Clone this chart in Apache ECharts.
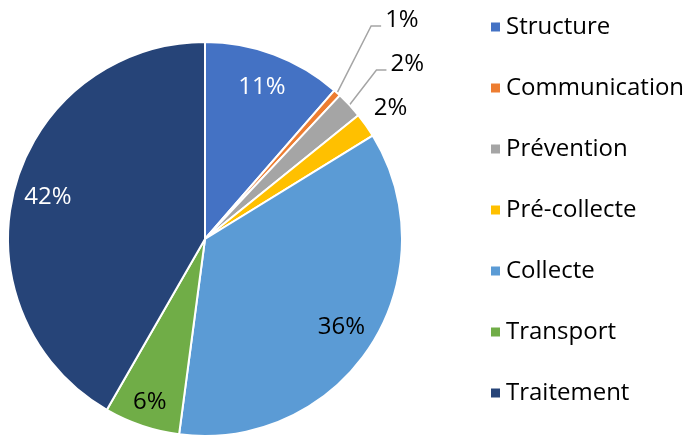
<!DOCTYPE html>
<html>
<head>
<meta charset="utf-8">
<script src="https://cdn.jsdelivr.net/npm/echarts@6/dist/echarts.min.js"></script>
<style>
  html, body { margin: 0; padding: 0; background: #fff; }
  #chart { width: 688px; height: 439px; }
</style>
</head>
<body>
<div id="chart"></div>
<script>
var categories = ['Structure', 'Communication', 'Prévention', 'Pré-collecte', 'Collecte', 'Transport', 'Traitement'];
var shares = [11.4, 0.6, 2.2, 2.0, 35.9, 6.2, 41.7];
var colors = ['#4472C4', '#ED7D31', '#A5A5A5', '#FFC000', '#5B9BD5', '#70AD47', '#264478'];
// which slices get their label outside, and inside label colour
var outside = [false, true, true, true, false, false, false];
var insideColor = ['#fff', '#000', '#000', '#000', '#000', '#000', '#fff'];

// leader line for the small slices: bend point relative to the slice edge, then a short run to the label
var leaders = {
  1: { bend: [34, -67], run: 10, line: true },
  2: { bend: [27, -35], run: 10, line: true },
  3: { bend: [1, -11], run: 3, line: false }
};

var chart = echarts.init(document.getElementById('chart'));

function pct(p) { return Math.round(p.percent) + '%'; }

var mainData = categories.map(function (name, i) {
  var item = { name: name, value: shares[i], itemStyle: { color: colors[i] } };
  if (outside[i]) {
    item.label = { show: true, position: 'outside' };
    item.labelLine = { show: true };
    if (!leaders[i].line) item.labelLine.lineStyle = { opacity: 0 };
  } else {
    item.label = { show: false };
  }
  return item;
});

var labelData = categories.map(function (name, i) {
  return {
    name: name,
    value: shares[i],
    label: { show: !outside[i], color: insideColor[i] }
  };
});

var option = {
  animation: false,
  legend: {
    orient: 'vertical',
    left: 484,
    top: 7,
    itemWidth: 11,
    itemHeight: 11,
    itemGap: 31,
    icon: 'rect',
    data: categories,
    textStyle: { fontFamily: 'Open Sans', fontSize: 24, lineHeight: 30, color: '#000' }
  },
  series: [
    {
      type: 'pie',
      center: [205, 239],
      radius: [0, 197],
      startAngle: 90,
      clockwise: true,
      avoidLabelOverlap: false,
      itemStyle: { borderColor: '#fff', borderWidth: 2 },
      label: {
        formatter: pct,
        fontFamily: 'Open Sans',
        fontSize: 24,
        color: '#000'
      },
      labelLine: { length: 20, length2: 8, lineStyle: { color: '#A5A5A5', width: 1.5 } },
      labelLayout: function (p) {
        var l = leaders[p.dataIndex];
        if (!l || !p.labelLinePoints) return {};
        var a = p.labelLinePoints[0];
        var bend = [a[0] + l.bend[0], a[1] + l.bend[1]];
        var end = [bend[0] + l.run, bend[1]];
        return {
          x: end[0] + 4,
          y: bend[1] - 6,
          align: 'left',
          verticalAlign: 'middle',
          hideOverlap: false,
          labelLinePoints: [a, bend, end]
        };
      },
      emphasis: { disabled: true },
      data: mainData
    },
    {
      type: 'pie',
      center: [205, 239],
      radius: [122, 197],
      startAngle: 90,
      clockwise: true,
      silent: true,
      itemStyle: { color: 'rgba(0,0,0,0)', borderWidth: 0 },
      label: {
        position: 'inside',
        formatter: pct,
        fontFamily: 'Open Sans',
        fontSize: 24
      },
      labelLine: { show: false },
      // Transport's label sits a little further out in the original
      labelLayout: function (p) {
        return p.dataIndex === 5 ? { dx: -3, dy: 9 } : {};
      },
      emphasis: { disabled: true },
      data: labelData
    }
  ]
};

chart.setOption(option);
</script>
</body>
</html>
